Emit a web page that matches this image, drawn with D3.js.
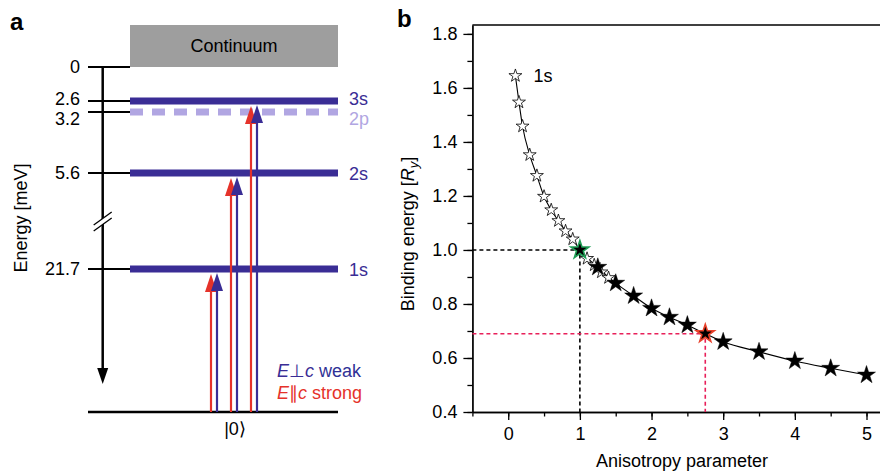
<!DOCTYPE html>
<html>
<head>
<meta charset="utf-8">
<script src="https://cdn.jsdelivr.net/npm/d3@7"></script>
<style>
  body { margin: 0; background: #fff; }
  svg text { font-family: "Liberation Sans", Arial, Helvetica, sans-serif; }
  .axis text { font-size: 18px; fill: #000; }
  .axis path, .axis line { stroke: #000; stroke-width: 1.3px; }
</style>
</head>
<body>
<div id="chart"></div>
<script>
/* * * * * * * * * * * * * *
 *   exciton level data     *
 * * * * * * * * * * * * * */

// panel a: energy levels (meV below continuum)
let energyTicks = [0, 2.6, 3.2, 5.6, 21.7];
let levelNames = ["3s", "2p", "2s", "1s"];
let levelEnergy = [2.6, 3.2, 5.6, 21.7];
let levelDashed = [false, true, false, false];

// optical transitions from |0> (one red + one blue arrow per level)
let transitions = ["1s", "2s", "3s"];
let polarisations = ["parallel", "perp"];

// panel b: binding energy vs anisotropy parameter
let openX = [0.1, 0.15, 0.2, 0.3, 0.4, 0.5, 0.6, 0.7, 0.8, 0.9, 1.0, 1.1, 1.2, 1.3, 1.4, 1.5];
let openY = [1.645, 1.547, 1.458, 1.352, 1.275, 1.198, 1.148, 1.108, 1.07, 1.04, 1.0, 0.968, 0.944, 0.918, 0.897, 0.877];
let filledX = [1.0, 1.25, 1.5, 1.75, 2.0, 2.25, 2.5, 2.75, 3.0, 3.5, 4.0, 4.5, 5.0];
let filledY = [1.0, 0.936, 0.877, 0.83, 0.784, 0.751, 0.722, 0.69, 0.66, 0.623, 0.589, 0.562, 0.537];

// highlighted points with guide lines
let markX = [1.0, 2.75];
let markY = [1.0, 0.69];
let markColor = ["#1f9e55", "#e8402a"];
let guideColor = ["#000", "#e8205a"];

let xTicks = [0, 1, 2, 3, 4, 5];
let yTicks = [0.4, 0.6, 0.8, 1.0, 1.2, 1.4, 1.6, 1.8];

const BLUE = "#3a2d95";
const LILAC = "#b1a6e2";
const RED = "#e5322a";

let svg = d3.select("#chart").append("svg").attr("width", 880).attr("height", 472);

/* ---------- panel a ---------- */
function drawLevels() {
  let g = svg.append("g");

  // schematic (broken) energy scale
  let energy = d3.scaleLinear().domain(energyTicks).range([67, 101, 112, 173, 269]);
  let left = 130, right = 338, axisX = 102.7;

  g.append("text").text("a").attr("x", 10).attr("y", 30)
    .attr("font-size", 24).attr("font-weight", "bold");

  // continuum block
  g.append("rect").attr("x", left).attr("y", 25).attr("width", right - left)
    .attr("height", energy(0) - 25).attr("fill", "#9e9e9e");
  g.append("text").text("Continuum").attr("x", (left + right) / 2).attr("y", 46)
    .attr("dy", "0.35em").attr("text-anchor", "middle").attr("font-size", 18);

  // vertical energy axis with arrow
  g.append("line").attr("x1", axisX).attr("x2", axisX).attr("y1", energy(0)).attr("y2", 372)
    .attr("stroke", "#000").attr("stroke-width", 2.5);
  g.append("path").attr("d", `M${axisX - 5.5},368 L${axisX + 5.5},368 L${axisX},384 Z`).attr("fill", "#000");

  // axis break
  g.append("path").attr("d", `M${axisX - 9},225 L${axisX + 9},212 L${axisX + 9},218 L${axisX - 9},231 Z`).attr("fill", "#fff");
  [0, 6].forEach((o) => {
    g.append("line").attr("x1", axisX - 9).attr("y1", 225 + o).attr("x2", axisX + 9).attr("y2", 212 + o)
      .attr("stroke", "#000").attr("stroke-width", 1.3);
  });

  // ticks and labels
  g.selectAll(".etick").data(energyTicks).enter().append("line")
    .attr("x1", 88).attr("x2", left)
    .attr("y1", (d) => energy(d)).attr("y2", (d) => energy(d))
    .attr("stroke", "#000").attr("stroke-width", 2.2);
  g.selectAll(".elabel").data(energyTicks).enter().append("text")
    .text((d) => d)
    .attr("x", 80)
    .attr("y", (d) => energy(d) + (d === 3.2 ? 7 : d === 2.6 ? -2 : 0))
    .attr("dy", "0.35em").attr("text-anchor", "end").attr("font-size", 18);

  g.append("text").text("Energy [meV]")
    .attr("transform", "translate(27,218) rotate(-90)")
    .attr("text-anchor", "middle").attr("font-size", 18);

  // level lines
  levelNames.forEach((name, i) => {
    let y = energy(levelEnergy[i]);
    g.append("line").attr("x1", left).attr("x2", right).attr("y1", y).attr("y2", y)
      .attr("stroke", levelDashed[i] ? LILAC : BLUE).attr("stroke-width", 7)
      .attr("stroke-dasharray", levelDashed[i] ? "13,9" : null);
    g.append("text").text(name).attr("x", 349).attr("y", y + (name === "2p" ? 7 : name === "3s" ? -2 : 1))
      .attr("dy", "0.35em").attr("font-size", 18).attr("fill", levelDashed[i] ? LILAC : BLUE);
  });

  // ground state
  g.append("line").attr("x1", 88).attr("x2", right).attr("y1", 412).attr("y2", 412)
    .attr("stroke", "#000").attr("stroke-width", 2.5);
  g.append("text").text("|0\u27e9").attr("x", 235).attr("y", 429).attr("dy", "0.35em")
    .attr("text-anchor", "middle").attr("font-size", 18);

  // transition arrows
  let xBand = d3.scaleBand().domain(transitions).range([204, 264]);
  let offset = d3.scalePoint().domain(polarisations).range([-3, 3]);
  let colour = d3.scaleOrdinal().domain(polarisations).range([RED, BLUE]);

  transitions.forEach((t) => {
    let tip = energy(levelEnergy[levelNames.indexOf(t)]) + 4;
    polarisations.forEach((p) => {
      let x = xBand(t) + xBand.bandwidth() / 2 + offset(p);
      let tipY = p === "parallel" ? tip + 1 : tip;
      g.append("line").attr("x1", x).attr("x2", x).attr("y1", 412).attr("y2", tipY + 12)
        .attr("stroke", colour(p)).attr("stroke-width", 2.2);
      g.append("path").attr("d", `M${x - 6},${tipY + 18} L${x + 6},${tipY + 18} L${x},${tipY} Z`)
        .attr("fill", colour(p));
    });
  });

  // legend
  let l1 = g.append("text").attr("x", 277).attr("y", 377).attr("font-size", 18).attr("fill", BLUE);
  l1.append("tspan").text("E").attr("font-style", "italic");
  l1.append("tspan").text("\u22a5");
  l1.append("tspan").text("c").attr("font-style", "italic");
  l1.append("tspan").text(" weak").attr("fill", "#2f3196");
  let l2 = g.append("text").attr("x", 277).attr("y", 399).attr("font-size", 18).attr("fill", RED);
  l2.append("tspan").text("E").attr("font-style", "italic");
  l2.append("tspan").text("\u2225");
  l2.append("tspan").text("c").attr("font-style", "italic");
  l2.append("tspan").text(" strong");
}

/* ---------- panel b ---------- */
function drawBinding() {
  let g = svg.append("g");

  let x = d3.scaleLinear().domain([-0.5, 5.3]).range([472.4, 888]);
  let y = d3.scaleLinear().domain([0.4, 1.833]).range([412, 25]);

  g.append("text").text("b").attr("x", 397).attr("y", 27)
    .attr("font-size", 24).attr("font-weight", "bold");

  // frame top
  g.append("line").attr("x1", x.range()[0]).attr("x2", 880).attr("y1", 25).attr("y2", 25)
    .attr("stroke", "#000").attr("stroke-width", 1.3);

  // minor ticks
  g.append("g").attr("class", "axis").attr("transform", "translate(0,412)")
    .call(d3.axisBottom(x).tickValues(d3.range(-0.5, 5.3, 0.5)).tickSize(4.5).tickSizeOuter(0).tickFormat(""));
  g.append("g").attr("class", "axis").attr("transform", `translate(${x.range()[0]},0)`)
    .call(d3.axisLeft(y).tickValues(d3.range(0.4, 1.81, 0.1)).tickSize(5).tickSizeOuter(0).tickFormat(""));

  // major ticks
  g.append("g").attr("class", "axis").attr("transform", "translate(0,412)")
    .call(d3.axisBottom(x).tickValues(xTicks).tickSize(8).tickSizeOuter(0).tickPadding(7).tickFormat(d3.format("d")));
  g.append("g").attr("class", "axis").attr("transform", `translate(${x.range()[0]},0)`)
    .call(d3.axisLeft(y).tickValues(yTicks).tickSize(9).tickSizeOuter(0).tickPadding(6).tickFormat(d3.format(".1f")));

  // axis titles
  g.append("text").text("Anisotropy parameter").attr("x", 682).attr("y", 467)
    .attr("text-anchor", "middle").attr("font-size", 18);
  let yl = g.append("text").attr("transform", "translate(414,234) rotate(-90)")
    .attr("text-anchor", "middle").attr("font-size", 18);
  yl.append("tspan").text("Binding energy [");
  yl.append("tspan").text("R").attr("font-style", "italic");
  yl.append("tspan").text("y").attr("font-style", "italic").attr("font-size", 13).attr("dy", 4);
  yl.append("tspan").text("]").attr("dy", -4);

  // dashed guide lines
  markX.forEach((mx, i) => {
    g.append("path")
      .attr("d", `M${x.range()[0]},${y(markY[i])} H${x(mx)} V${y(0.4)}`)
      .attr("fill", "none").attr("stroke", guideColor[i]).attr("stroke-width", 1.6)
      .attr("stroke-dasharray", "4,3");
  });

  // curve through the calculated points
  let curveData = openX.filter((d) => d < 1).map((d, i) => [d, openY[i]])
    .concat(filledX.map((d, i) => [d, filledY[i]]));
  g.append("path").datum(curveData)
    .attr("d", d3.line().x((d) => x(d[0])).y((d) => y(d[1])).curve(d3.curveMonotoneX))
    .attr("fill", "none").attr("stroke", "#000").attr("stroke-width", 1.1);

  let star = d3.symbol().type(d3.symbolStar);

  g.selectAll(".open").data(openX).enter().append("path")
    .attr("class", "open")
    .attr("d", star.size(52)())
    .attr("transform", (d, i) => `translate(${x(d)},${y(openY[i])})`)
    .attr("fill", "#fff").attr("stroke", "#000").attr("stroke-width", 0.8);

  g.selectAll(".filled").data(filledX).enter().append("path")
    .attr("class", "filled")
    .attr("d", star.size(100)())
    .attr("transform", (d, i) => `translate(${x(d)},${y(filledY[i])})`)
    .attr("fill", "#000")
    .attr("stroke", (d) => (markX.indexOf(d) >= 0 ? markColor[markX.indexOf(d)] : "#000"))
    .attr("stroke-width", (d) => (markX.indexOf(d) >= 0 ? 1.6 : 0.5));

  g.append("text").text("1s").attr("x", x(openX[0]) + 18).attr("y", y(openY[0]))
    .attr("dy", "0.35em").attr("font-size", 18);
}

drawLevels();
drawBinding();
</script>
</body>
</html>
